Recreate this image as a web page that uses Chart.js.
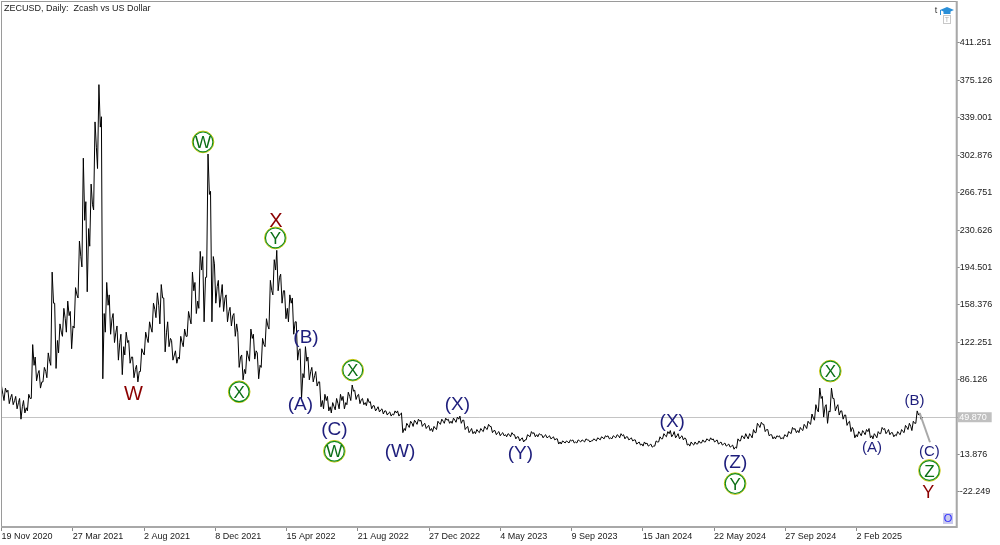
<!DOCTYPE html>
<html>
<head>
<meta charset="utf-8">
<title>ZECUSD, Daily</title>
<script src="https://cdn.jsdelivr.net/npm/chart.js@4.4.1/dist/chart.umd.min.js"></script>
<style>
    html, body { margin: 0; padding: 0; background: #fff; }
    #wrap { width: 1000px; height: 545px; }
</style>
</head>
<body>
<div id="wrap"><canvas id="zecChart" width="1000" height="545"></canvas></div>
<script>
// ===================== data =====================
// weekly bars, day 0 = 19 Nov 2020, one bar every 7 days
const firstBarDay = 0;
const barStepDays = 7;

const weekHigh = [
    80, 78, 76, 72, 70, 68, 66, 72, 120, 108,
    95, 98, 112, 190, 160, 140, 155, 162, 152, 175,
    220, 300, 258, 275, 335, 371, 340, 180, 168, 150,
    138, 130, 132, 124, 108, 100, 116, 132, 142, 160,
    170, 178, 165, 142, 124, 114, 128, 135, 152, 190,
    180, 210, 205, 304, 268, 198, 182, 178, 168, 156,
    150, 132, 110, 114, 135, 130, 112, 126, 145, 182,
    202, 211, 188, 172, 168, 165, 142, 116, 118, 108,
    98, 94, 84, 72, 70, 64, 68, 72, 70, 74,
    81, 76, 72, 68, 68, 65, 61, 60, 58, 56,
    55, 56, 56, 54, 44, 46, 47, 48, 47, 44,
    42, 41, 46, 48, 49, 48, 49, 50, 51, 47,
    41, 39, 38, 39, 41, 43, 41, 37, 36, 35,
    34, 35, 33, 31, 30, 33, 36, 35, 34, 33,
    33, 32, 31, 29, 27, 27, 28, 28, 28, 28,
    29, 28, 29, 30, 31, 32, 32, 32, 33, 34,
    33, 31, 30, 28, 26, 26, 25, 24, 27, 31,
    34, 36, 37, 36, 34, 32, 29, 26, 26, 27,
    28, 29, 30, 29, 28, 26, 25, 24, 23, 29,
    32, 34, 34, 38, 44, 45, 43, 38, 33, 32,
    32, 33, 36, 40, 39, 40, 43, 46, 53, 62,
    78, 70, 62, 78, 68, 62, 56, 52, 46, 38,
    36, 37, 38, 39, 34, 36, 40, 39, 38, 35,
    36, 38, 42, 44, 46, 56, 54
];

const weekLow = [
    62, 66, 63, 62, 58, 48, 54, 56, 68, 85,
    78, 84, 88, 100, 97, 112, 128, 132, 116, 136,
    165, 195, 171, 215, 250, 290, 87, 132, 130, 122,
    105, 91, 110, 102, 88, 84, 94, 110, 122, 132,
    146, 140, 113, 118, 105, 102, 106, 118, 128, 140,
    150, 155, 142, 185, 142, 160, 156, 152, 142, 138,
    128, 98, 86, 92, 104, 106, 87, 98, 118, 135,
    168, 172, 160, 145, 142, 130, 105, 68, 88, 86,
    84, 80, 60, 58, 56, 54, 57, 58, 58, 62,
    66, 67, 63, 62, 61, 58, 56, 55, 53, 52,
    51, 52, 51, 35, 37, 40, 41, 43, 41, 39,
    37, 36, 38, 43, 44, 44, 44, 45, 44, 38,
    35, 34, 34, 35, 36, 38, 35, 33, 32, 32,
    31, 31, 29, 27, 26, 28, 31, 31, 31, 30,
    30, 29, 28, 24, 24, 25, 25, 25, 25, 26,
    26, 26, 27, 27, 28, 29, 29, 29, 30, 30,
    29, 28, 27, 24, 23, 22, 22, 21, 22, 26,
    29, 31, 31, 30, 29, 28, 23, 22, 23, 24,
    25, 26, 27, 26, 24, 23, 22, 21, 19, 20,
    27, 29, 29, 30, 35, 40, 36, 32, 29, 29,
    29, 29, 31, 34, 35, 35, 37, 39, 43, 47,
    55, 50, 44, 55, 56, 52, 48, 42, 36, 30,
    31, 32, 33, 30, 29, 30, 34, 34, 33, 31,
    32, 33, 35, 38, 37, 44, 48
];

const weekClose = [
    72, 74, 69, 66, 64, 60, 59, 68, 100, 92,
    84, 94, 104, 160, 124, 132, 145, 148, 138, 168,
    205, 240, 232, 255, 310, 330, 150, 158, 145, 132,
    122, 118, 122, 108, 96, 94, 112, 126, 136, 154,
    158, 165, 132, 126, 110, 108, 122, 128, 145, 172,
    162, 192, 185, 265, 205, 176, 168, 165, 152, 148,
    140, 108, 96, 108, 126, 114, 100, 120, 138, 172,
    192, 185, 172, 155, 160, 142, 115, 92, 104, 94,
    90, 84, 66, 66, 60, 60, 63, 66, 64, 70,
    75, 71, 67, 64, 64, 61, 58, 57, 56, 54,
    53, 54, 53, 39, 42, 44, 45, 46, 43, 41,
    39, 39, 44, 46, 47, 46, 47, 48, 47, 40,
    37, 36, 36, 37, 39, 41, 37, 35, 34, 33,
    33, 33, 31, 29, 28, 32, 34, 33, 33, 32,
    31, 30, 29, 26, 26, 26, 27, 26, 27, 27,
    28, 27, 28, 29, 30, 31, 30, 31, 32, 32,
    31, 29, 28, 25, 24, 24, 23, 22, 26, 29,
    32, 34, 33, 32, 31, 30, 24, 24, 24, 25,
    26, 28, 28, 27, 25, 24, 23, 22, 21, 27,
    31, 31, 32, 35, 42, 43, 38, 33, 31, 31,
    30, 32, 35, 38, 37, 38, 41, 44, 49, 57,
    68, 60, 56, 68, 60, 56, 52, 45, 40, 33,
    34, 35, 36, 32, 32, 34, 38, 36, 35, 33,
    34, 36, 40, 41, 44, 52, 49.87
];

// last price shown on the price axis
const lastPrice = 49.870;

// projected (C) leg after the last bar (grey line)
const projDays = [1649.5, 1668];
const projPrices = [54, 25.7];

// time axis
const xTickDays = [0, 128, 256, 384, 512, 640, 768, 896, 1024, 1152, 1280, 1408, 1536];
const xTickLabels = ['19 Nov 2020', '27 Mar 2021', '2 Aug 2021', '8 Dec 2021', '15 Apr 2022', '21 Aug 2022',
    '27 Dec 2022', '4 May 2023', '9 Sep 2023', '15 Jan 2024', '22 May 2024', '27 Sep 2024', '2 Feb 2025'];

// price axis
const yTicks = [-22.249, 13.876, 50.001, 86.126, 122.251, 158.376, 194.501,
    230.626, 266.751, 302.876, 339.001, 375.126, 411.251];

// Elliott wave marks: text, anchor day, anchor price, kind
const waveText = ['W', 'X', 'Y',
    'W', 'X', 'Y', 'X', 'W', 'Y', 'X', 'Z',
    '(A)', '(B)', '(C)', '(W)', '(X)', '(Y)', '(X)', '(Z)',
    '(A)', '(B)', '(C)'];
const waveDay = [237, 493, 1665,
    362, 427, 492, 631, 598, 1318, 1489, 1667,
    537, 547, 598, 716, 819, 932, 1205, 1318,
    1564, 1640, 1667];
const wavePrice = [73.6, 240.7, -22.2,
    315.7, 74.5, 223.0, 95.3, 17.0, -14.2, 94.4, -1.5,
    63.7, 128.0, 39.1, 17.7, 63.7, 15.8, 47.4, 7.2,
    21.5, 66.6, 17.7];
const waveKind = ['red', 'red', 'redSmall',
    'ring', 'ring', 'ring', 'ring', 'ring', 'ring', 'ring', 'ring',
    'navy', 'navy', 'navy', 'navy', 'navy', 'navy', 'navy', 'navy',
    'navySmall', 'navySmall', 'navySmall'];

// ===================== styles =====================
const FONT = '"Liberation Sans", Arial, sans-serif';
const waveStyles = {
    red: { color: '#8b0000', size: 20 },
    redSmall: { color: '#8b0000', size: 18 },
    ring: { color: '#0b6e16', size: 17 },
    navy: { color: '#1e1e7c', size: 19 },
    navySmall: { color: '#1e1e7c', size: 15 }
};

const barDays = weekHigh.map((h, i) => firstBarDay + i * barStepDays);

// price path: each week goes low->high (up week) or high->low (down week), then to the close
const pricePath = [];
weekHigh.forEach((h, i) => {
    const d = barDays[i];
    const up = i === 0 || weekClose[i] >= weekClose[i - 1];
    pricePath.push({ x: d - 2.5, y: up ? weekLow[i] : h });
    pricePath.push({ x: d, y: up ? h : weekLow[i] });
    pricePath.push({ x: d + 2.5, y: weekClose[i] });
});

// background, price line, frame, labels and small widgets
const mtPlugin = {
    id: 'mtLook',
    beforeDraw(chart) {
        const ctx = chart.ctx;
        ctx.save();
        ctx.fillStyle = '#ffffff';
        ctx.fillRect(0, 0, chart.width, chart.height);
        ctx.restore();
    },
    beforeDatasetsDraw(chart) {
        // current price line
        const ctx = chart.ctx;
        const a = chart.chartArea;
        const y = Math.round(chart.scales.y.getPixelForValue(lastPrice)) + 0.5;
        ctx.save();
        ctx.strokeStyle = '#c4c4c4';
        ctx.lineWidth = 1;
        ctx.beginPath();
        ctx.moveTo(a.left, y);
        ctx.lineTo(a.right, y);
        ctx.stroke();
        ctx.restore();
    },
    afterDatasetsDraw(chart) {
        const ctx = chart.ctx;
        const xs = chart.scales.x;
        const ys = chart.scales.y;
        ctx.save();
        ctx.textAlign = 'center';
        ctx.textBaseline = 'alphabetic';
        waveText.forEach((t, i) => {
            const st = waveStyles[waveKind[i]];
            const px = xs.getPixelForValue(waveDay[i]);
            const py = ys.getPixelForValue(wavePrice[i]);
            if (waveKind[i] === 'ring') {
                ctx.lineWidth = 1;
                ctx.strokeStyle = '#c9c400';
                ctx.beginPath();
                ctx.arc(px, py, 10.8, 0, Math.PI * 2);
                ctx.stroke();
                ctx.lineWidth = 1.2;
                ctx.strokeStyle = '#118a1e';
                ctx.beginPath();
                ctx.arc(px, py, 9.9, 0, Math.PI * 2);
                ctx.stroke();
            }
            ctx.fillStyle = st.color;
            ctx.font = st.size + 'px ' + FONT;
            ctx.fillText(t, px, py + st.size * 0.36);
        });
        ctx.restore();
    },
    afterDraw(chart) {
        const ctx = chart.ctx;
        const a = chart.chartArea;
        const ys = chart.scales.y;
        ctx.save();

        // frame
        ctx.strokeStyle = '#9a9a9a';
        ctx.lineWidth = 1;
        ctx.strokeRect(1.5, 1.5, a.right - 1.5, a.bottom - 1.5);
        ctx.strokeStyle = '#a8a8a8';
        ctx.lineWidth = 2;
        ctx.beginPath();
        ctx.moveTo(a.right, 1);
        ctx.lineTo(a.right, a.bottom);
        ctx.lineTo(1, a.bottom);
        ctx.stroke();

        // title
        ctx.fillStyle = '#1a1a1a';
        ctx.font = '9px ' + FONT;
        ctx.textAlign = 'left';
        ctx.textBaseline = 'middle';
        ctx.fillText('ZECUSD, Daily:  Zcash vs US Dollar', 4, 9);

        // last price box on the axis
        const py = ys.getPixelForValue(lastPrice);
        ctx.fillStyle = '#c0c0c0';
        ctx.fillRect(a.right + 1, py - 5, 34, 10);
        ctx.fillStyle = '#ffffff';
        ctx.fillText(lastPrice.toFixed(3), a.right + 2.5, py + 0.5);

        // small "O" box in the lower right corner
        ctx.fillStyle = '#c9c9ee';
        ctx.fillRect(943, 513, 10, 11);
        ctx.fillStyle = '#2b2bff';
        ctx.font = '11px ' + FONT;
        ctx.textAlign = 'center';
        ctx.fillText('O', 948, 519);

        // "t" and the trading-school icon top right
        ctx.fillStyle = '#333';
        ctx.font = '9px ' + FONT;
        ctx.fillText('t', 936, 11);
        ctx.fillStyle = '#2a8fd8';
        ctx.beginPath();
        ctx.moveTo(940, 10);
        ctx.lineTo(947, 7);
        ctx.lineTo(954, 10);
        ctx.lineTo(947, 13);
        ctx.closePath();
        ctx.fill();
        ctx.fillRect(943.5, 11, 7, 3);
        ctx.strokeStyle = '#2a8fd8';
        ctx.lineWidth = 1;
        ctx.beginPath();
        ctx.moveTo(940.5, 10);
        ctx.lineTo(940.5, 15);
        ctx.stroke();
        ctx.strokeStyle = '#c8c8c8';
        ctx.strokeRect(943.5, 15.5, 7, 8);
        ctx.fillStyle = '#b0b0b0';
        ctx.font = '7px ' + FONT;
        ctx.fillText('T', 947, 20);

        ctx.restore();
    }
};

const ctx = document.getElementById('zecChart').getContext('2d');
const zecChart = new Chart(ctx, {
    type: 'line',
    data: {
        datasets: [
            {
                // weekly price path (low / high / close)
                data: pricePath,
                borderColor: '#000000',
                borderWidth: 1,
                pointRadius: 0,
                tension: 0,
                order: 2
            },
            {
                // projected leg
                data: projDays.map((d, i) => ({ x: d, y: projPrices[i] })),
                borderColor: '#a9a9a9',
                borderWidth: 2,
                pointRadius: 0,
                tension: 0,
                order: 1
            }
        ]
    },
    options: {
        responsive: false,
        animation: false,
        devicePixelRatio: 1,
        layout: { padding: { left: 1.5, top: 1.5, right: 0, bottom: 0 } },
        plugins: {
            legend: { display: false },
            tooltip: { enabled: false },
            title: { display: false }
        },
        scales: {
            x: {
                type: 'linear',
                min: 0,
                max: 1716,
                offset: false,
                afterBuildTicks: axis => { axis.ticks = xTickDays.map(v => ({ value: v })); },
                afterFit: axis => { axis.height = 18; },
                grid: { drawOnChartArea: false, offset: false, tickLength: 4, color: '#8a8a8a' },
                border: { display: false },
                ticks: {
                    autoSkip: false,
                    maxRotation: 0,
                    align: 'start',
                    padding: 0,
                    color: '#1a1a1a',
                    font: { family: FONT, size: 9 },
                    callback: (v, i) => xTickLabels[i]
                }
            },
            y: {
                position: 'right',
                min: -56.1,
                max: 447.5,
                afterBuildTicks: axis => { axis.ticks = yTicks.map(v => ({ value: v })); },
                afterFit: axis => { axis.width = 43.3; },
                grid: { drawOnChartArea: false, tickLength: 3, color: '#8a8a8a' },
                border: { display: false },
                ticks: {
                    padding: 0,
                    color: '#1a1a1a',
                    font: { family: FONT, size: 9 },
                    callback: v => v.toFixed(3)
                }
            }
        }
    },
    plugins: [mtPlugin]
});
</script>
</body>
</html>
